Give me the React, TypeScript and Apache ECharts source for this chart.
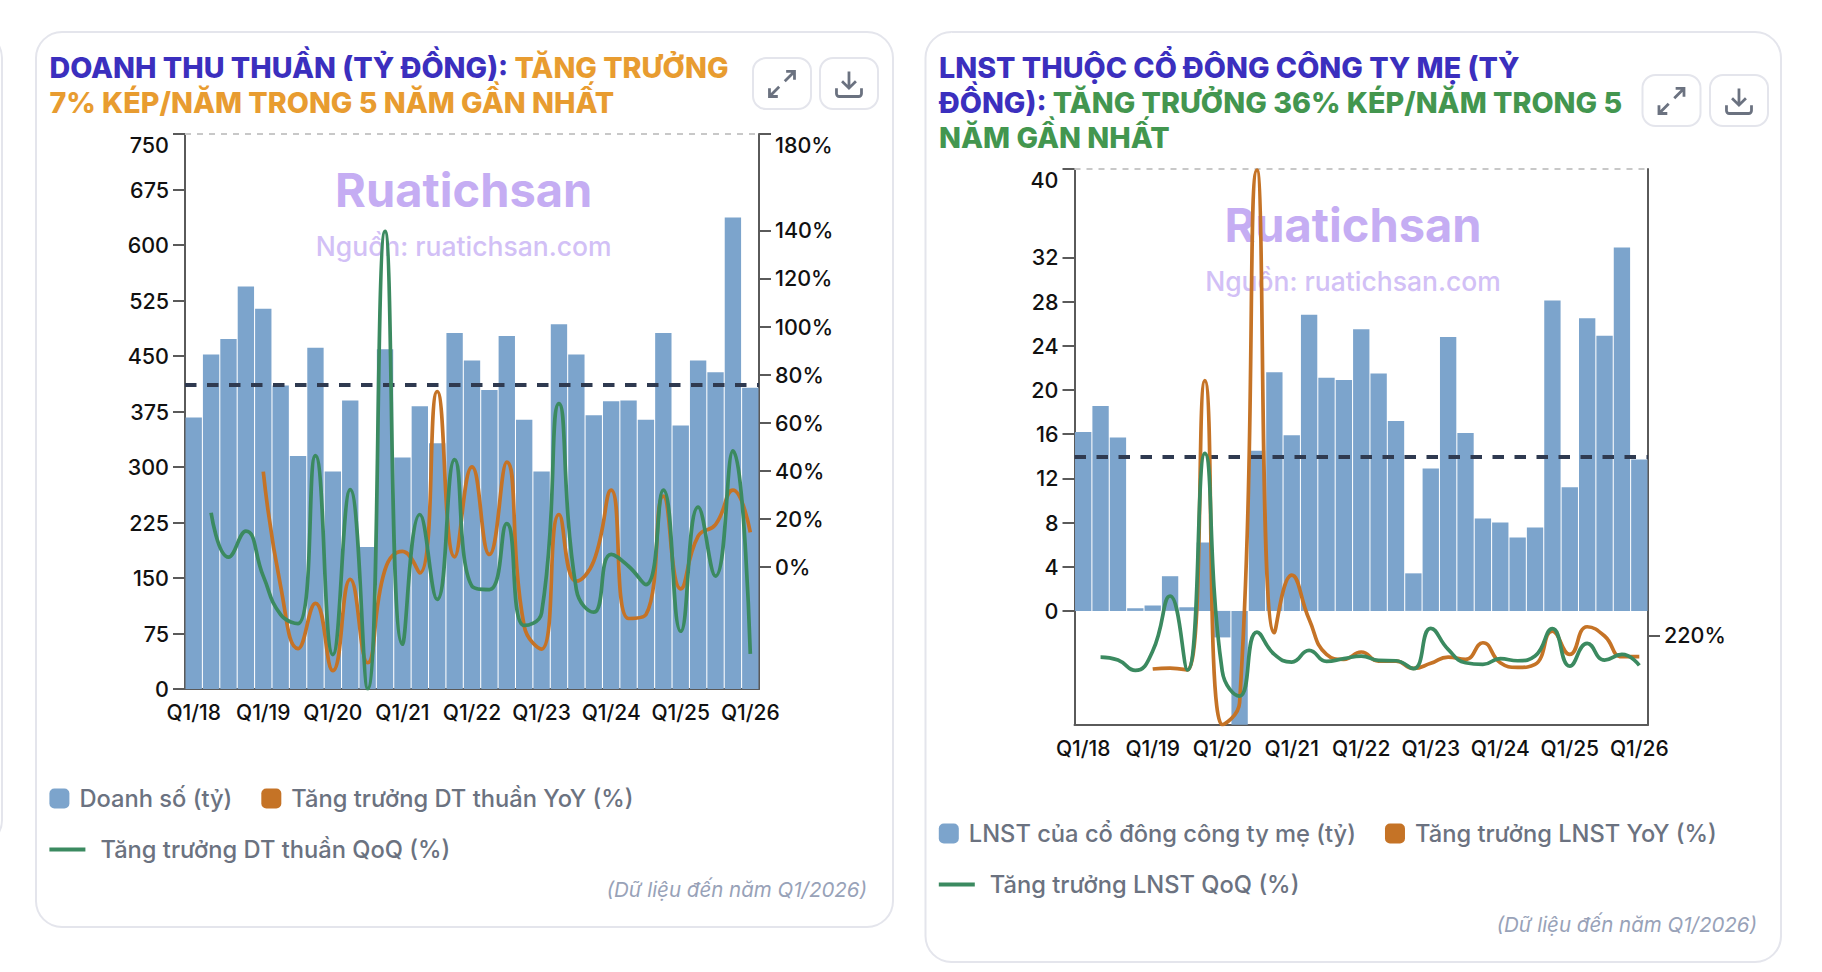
import React, { useEffect, useRef } from "react";
import * as echarts from "echarts";

const categories = [
  "Q1/18","Q2/18","Q3/18","Q4/18","Q1/19","Q2/19","Q3/19","Q4/19","Q1/20","Q2/20","Q3/20","Q4/20",
  "Q1/21","Q2/21","Q3/21","Q4/21","Q1/22","Q2/22","Q3/22","Q4/22","Q1/23","Q2/23","Q3/23","Q4/23",
  "Q1/24","Q2/24","Q3/24","Q4/24","Q1/25","Q2/25","Q3/25","Q4/25","Q1/26",
];

const revenue = [367,452,473,544,514,410,315,461,294,390,192,459,313,382,332,481,444,404,477,364,294,493,452,370,389,390,364,481,356,444,428,637,407];
const revenueYoY = [null,null,null,null,39.7,-8,-33.8,-15,-43,-5,-39.7,-1,6.6,-2.4,73,4.3,41.7,5.3,43.7,-24.5,-34,21.9,-5.8,2.5,32,-21.3,-19.7,29.5,-9,12.9,17.7,32,14.5];
const revenueQoQ = [null,22.6,4.2,15,-3.7,-19.7,-23.4,46.4,-36.3,32.2,-50.5,139.5,-32,21.9,-13.4,44.7,-7.9,-9.3,18.1,-24.2,-19,68,-9.3,-18.7,5.3,0.4,-7.2,32,-26.6,25,-3.7,48.3,-36];
const revenueAverage = 411.6;

const profit = [16.2,18.55,15.7,0.24,0.49,3.14,0.33,6.2,-2.4,-10.3,14.5,21.6,15.9,26.8,21.1,20.9,25.5,21.5,17.2,3.4,12.9,24.8,16.1,8.36,8,6.64,7.55,28.1,11.2,26.5,24.9,32.9,13.7];
const profitYoY = [null,null,null,null,-89,-80,-98,2558,-600,-398,4490,244,773,367,45,0,67,-16,-16,-83,-37,21,0,152,-31,-74,-47,259,45,299,214,24,24];
const profitQoQ = [null,21,-7,-102,76,581,-98,1890,-108,-337,250,45,-25,82,-19,6,30,-10,-13,-86,284,91,-31,-47,6,-13,30,281,-62,146,-7,45,-56];
const profitAverage = 13.94;

const revenueTicks = [0,75,150,225,300,375,450,525,600,675,750];
const revenueGrowthTicks = [0,20,40,60,80,100,120,140,180];
const profitTicks = [0,4,8,12,16,20,24,28,32,40];
const profitGrowthTicks = [220];

const FONT = "Inter";
const BAR = "#7CA4CC";
const ORANGE = "#C57326";
const GREEN = "#3B8A60";
const AXIS = "#5A5A5A";
const BLUE_T = "#3B2FBE";
const ORANGE_T = "#E89C30";
const GREEN_T = "#43964F";
const LEGEND = "#6B7280";
const TITLE_SIZE = 28.7;
const TITLE_WEIGHT = 800;

echarts.graphic.registerShape("iconExpand", echarts.graphic.extendPath("M14 10L21 3M15 3h6v6M3 21l7-7M3 15v6h6", {}));
echarts.graphic.registerShape("iconDownload", echarts.graphic.extendPath("M12 3v12M7 10l5 5 5-5M3 15v4a2 2 0 0 0 2 2h14a2 2 0 0 0 2-2v-4", {}));

const card = (x: number, y: number, w: number, h: number) => ({
  type: "rect", shape: { x, y, width: w, height: h, r: 26 },
  style: { fill: "#fff", stroke: "#E4E5EC", lineWidth: 2 },
});

const button = (x: number, y: number, w: number, h: number, icon: string) => [
  { type: "rect", shape: { x, y, width: w, height: h, r: 13 }, style: { fill: "#fff", stroke: "#E4E5EC", lineWidth: 2 } },
  { type: icon, x: x + w / 2 - 16.7, y: y + h / 2 - 16.2, scaleX: 1.39, scaleY: 1.39, style: { fill: "none", stroke: "#6B7280", lineWidth: 2 } },
];

const titleRich = {
  b: { fill: BLUE_T, fontFamily: FONT, fontWeight: TITLE_WEIGHT, fontSize: TITLE_SIZE, lineHeight: 35 },
  o: { fill: ORANGE_T, fontFamily: FONT, fontWeight: TITLE_WEIGHT, fontSize: TITLE_SIZE, lineHeight: 35 },
  g: { fill: GREEN_T, fontFamily: FONT, fontWeight: TITLE_WEIGHT, fontSize: TITLE_SIZE, lineHeight: 35 },
};

const title = (x: number, y: number, text: string) => ({
  type: "text", x, y, z: 3,
  style: { text, rich: titleRich, fontFamily: FONT, fontWeight: TITLE_WEIGHT, fontSize: TITLE_SIZE, lineHeight: 35 },
});

const watermark = (cx: number, y1: number, y2: number) => [
  { type: "text", x: cx, y: y1, style: { text: "Ruatichsan", fill: "#C5ADF3", fontFamily: FONT, fontWeight: 700, fontSize: 47, align: "center", verticalAlign: "middle" } },
  { type: "text", x: cx, y: y2, style: { text: "Nguồn: ruatichsan.com", fill: "#D2C0F6", fontFamily: FONT, fontWeight: 500, fontSize: 26.5, align: "center", verticalAlign: "middle" } },
];

const footnote = (right: number, y: number) => ({
  type: "text", x: right, y,
  style: { text: "(Dữ liệu đến năm Q1/2026)", fill: "#98A2B8", fontFamily: FONT, fontStyle: "italic", fontSize: 20.5, align: "right", verticalAlign: "middle" },
});

const xAxis = (gridIndex: number) => ({
  type: "category", gridIndex, data: categories,
  axisLine: { onZero: false, lineStyle: { color: AXIS, width: 2 } },
  axisTick: { alignWithLabel: true, interval: 3, length: 12, lineStyle: { color: AXIS, width: 2 } },
  axisLabel: { interval: 3, color: "#111", fontFamily: FONT, fontWeight: 500, fontSize: 21, margin: 13, hideOverlap: false },
  splitLine: { show: false },
});

const yAxis = (gridIndex: number, position: string, min: number, max: number, ticks: number[], suffix: string, top: boolean) => ({
  type: "value", gridIndex, position, min, max,
  axisLine: { show: true, onZero: false, lineStyle: { color: AXIS, width: 2 } },
  axisTick: { show: true, length: 12, customValues: ticks, lineStyle: { color: AXIS, width: 2 } },
  axisLabel: {
    customValues: ticks, formatter: (v: number) => `${v}${suffix}`,
    color: "#111", fontFamily: FONT, fontWeight: 500, fontSize: 21.5, margin: 16,
    ...(top ? { verticalAlignMaxLabel: "top" } : {}),
  },
  splitLine: { show: false },
});

const barSeries = (name: string, data: number[], idx: number, avg: number, topValue: number) => ({
  name, type: "bar", data, xAxisIndex: idx, yAxisIndex: idx * 2, barCategoryGap: "6%",
  itemStyle: { color: BAR }, z: 2,
  markLine: {
    silent: true, symbol: "none", z: 4, animation: false, label: { show: false },
    data: [
      { yAxis: avg, lineStyle: { color: "#2F3A50", width: 3.8, type: [11.5, 10.5], opacity: 1 } },
      { yAxis: topValue, lineStyle: { color: "#C8C8C8", width: 2, type: [6, 6], opacity: 1 } },
    ],
  },
});

const lineSeries = (name: string, data: (number | null)[], idx: number, color: string, z: number) => ({
  name, type: "line", data, xAxisIndex: idx, yAxisIndex: idx * 2 + 1, smooth: 0.5,
  showSymbol: false, symbol: "none", connectNulls: false, z,
  lineStyle: { color, width: 3.7 }, itemStyle: { color },
});

const legendBase = {
  orient: "horizontal", selectedMode: false, itemGap: 29, padding: 0,
  textStyle: { color: LEGEND, fontFamily: FONT, fontWeight: 500, fontSize: 23.7 },
};

const squareLegend = (left: number, top: number, names: string[]) => ({
  ...legendBase, left, top, itemWidth: 20, itemHeight: 20, icon: "roundRect",
  textStyle: { ...legendBase.textStyle, padding: [0, 0, 0, 5] },
  data: names,
});

const lineLegend = (left: number, top: number, name: string) => ({
  ...legendBase, left, top, itemWidth: 36, itemHeight: 4, icon: "rect",
  textStyle: { ...legendBase.textStyle, padding: [0, 0, 0, 10] },
  data: [name],
});

const N1 = "Doanh số (tỷ)";
const N2 = "Tăng trưởng DT thuần YoY (%)";
const N3 = "Tăng trưởng DT thuần QoQ (%)";
const N4 = "LNST của cổ đông công ty mẹ (tỷ)";
const N5 = "Tăng trưởng LNST YoY (%)";
const N6 = "Tăng trưởng LNST QoQ (%)";

export default function App() {
  const ref = useRef<HTMLDivElement>(null);
  useEffect(() => {
    const chart = echarts.init(ref.current!, undefined, { renderer: "svg" });
    chart.setOption({
      animation: false,
      backgroundColor: "#fff",
      grid: [
        { left: 185, top: 134, width: 574, height: 555, containLabel: false },
        { left: 1074.5, top: 169, width: 573.5, height: 555.7, containLabel: false },
      ],
      xAxis: [xAxis(0), xAxis(1)],
      yAxis: [
        yAxis(0, "left", 0, 750, revenueTicks, "", true),
        yAxis(0, "right", -50.6, 180, revenueGrowthTicks, "%", true),
        yAxis(1, "left", -10.3, 40, profitTicks, "", true),
        yAxis(1, "right", -600, 4500, profitGrowthTicks, "%", false),
      ],
      legend: [
        squareLegend(49.4, 786.5, [N1, N2]),
        lineLegend(49.4, 837.5, N3),
        squareLegend(938.8, 821.5, [N4, N5]),
        lineLegend(938.8, 872.5, N6),
      ],
      series: [
        barSeries(N1, revenue, 0, revenueAverage, 750),
        lineSeries(N2, revenueYoY, 0, ORANGE, 5),
        lineSeries(N3, revenueQoQ, 0, GREEN, 6),
        barSeries(N4, profit, 1, profitAverage, 40),
        lineSeries(N5, profitYoY, 1, ORANGE, 5),
        lineSeries(N6, profitQoQ, 1, GREEN, 6),
      ],
      graphic: {
        elements: [
          card(-900, 32, 902, 814),
          card(36, 32, 857, 895),
          card(925.5, 32, 855.5, 930),
          ...button(753, 58, 58, 51, "iconExpand"),
          ...button(820, 58, 58, 51, "iconDownload"),
          ...button(1642.5, 75, 58, 51, "iconExpand"),
          ...button(1710, 75, 58, 51, "iconDownload"),
          title(49.4, 49.5, "{b|DOANH THU THUẦN (TỶ ĐỒNG): }{o|TĂNG TRƯỞNG}\n{o|7% KÉP/NĂM TRONG 5 NĂM GẦN NHẤT}"),
          title(939, 49.5, "{b|LNST THUỘC CỔ ĐÔNG CÔNG TY MẸ (TỶ}\n{b|ĐỒNG): }{g|TĂNG TRƯỞNG 36% KÉP/NĂM TRONG 5}\n{g|NĂM GẦN NHẤT}"),
          ...watermark(463.7, 189, 246),
          ...watermark(1353, 224, 281),
          footnote(867, 889),
          footnote(1757, 924),
        ],
      },
    });
    return () => chart.dispose();
  }, []);
  return <div ref={ref} style={{ position: "absolute", left: 0, top: 0, width: 1822, height: 972 }} />;
}
